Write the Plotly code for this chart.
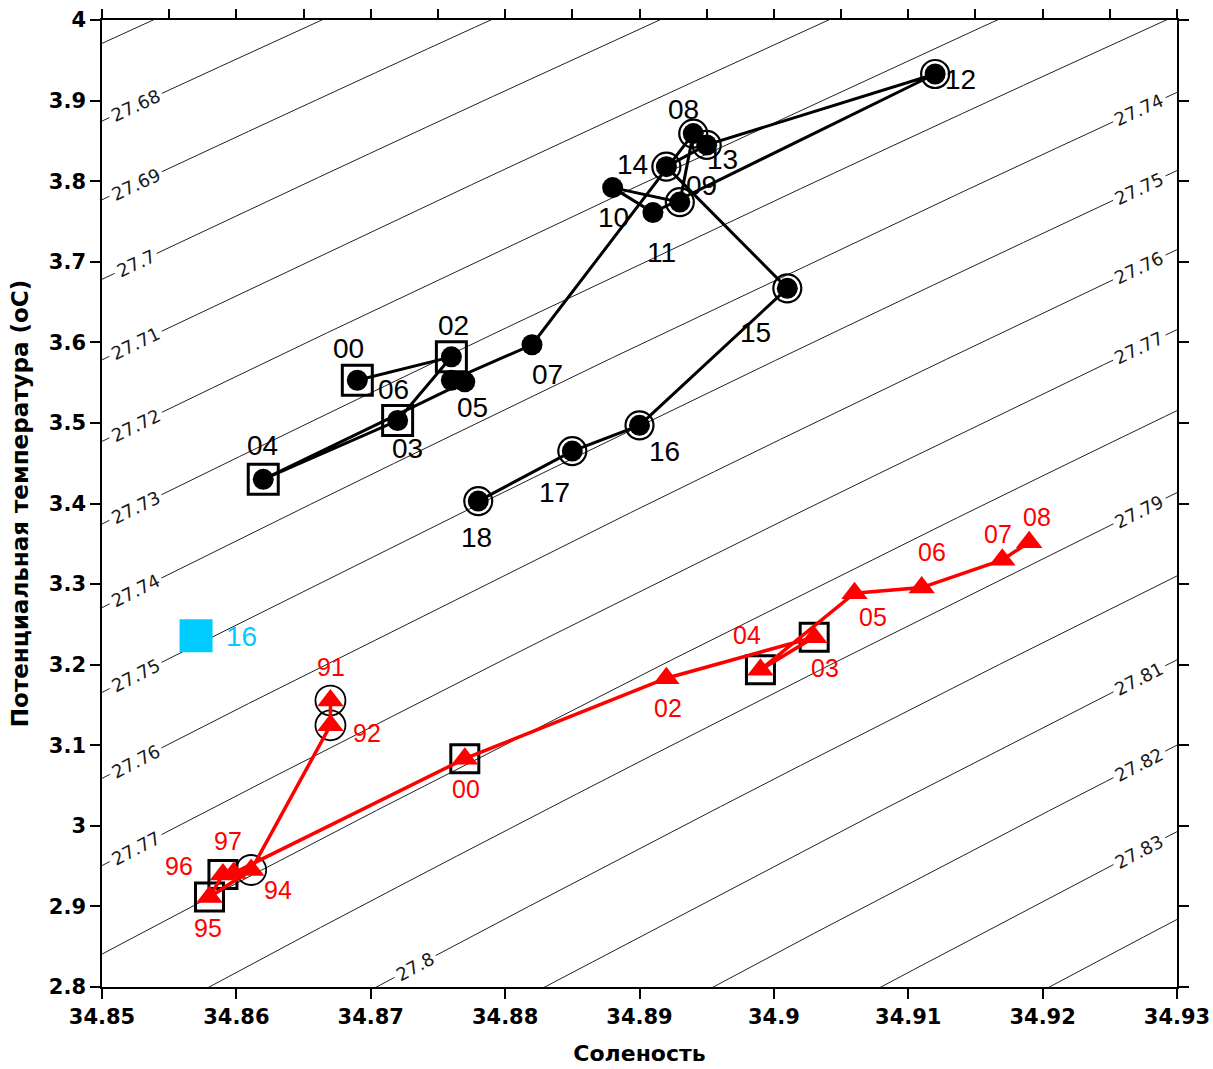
import numpy as np
import plotly.graph_objects as go

# ---------------- data ----------------
BLACK_YEARS = ["00", "02", "03", "04", "05", "06", "07", "08", "09",
               "10", "11", "12", "13", "14", "15", "16", "17", "18"]
BLACK_S = [34.869, 34.876, 34.872, 34.862, 34.877, 34.876, 34.882, 34.894, 34.893,
           34.888, 34.891, 34.912, 34.895, 34.892, 34.901, 34.890, 34.885, 34.878]
BLACK_T = [3.553, 3.582, 3.503, 3.430, 3.551, 3.553, 3.597, 3.859, 3.774,
           3.792, 3.761, 3.933, 3.845, 3.818, 3.667, 3.497, 3.465, 3.403]
BLACK_SQUARED = ["00", "02", "03", "04"]
BLACK_CIRCLED = ["08", "09", "12", "13", "14", "15", "16", "17", "18"]

RED_YEARS = ["91", "92", "94", "95", "96", "97", "00", "02", "03", "04", "05", "06", "07", "08"]
RED_S = [34.867, 34.867, 34.8611, 34.858, 34.859, 34.8598, 34.877, 34.892, 34.903,
         34.899, 34.906, 34.911, 34.917, 34.919]
RED_T = [3.1555, 3.1247, 2.9452, 2.9117, 2.9396, 2.9414, 3.0833, 3.1832, 3.2341,
         3.1936, 3.2887, 3.2957, 3.3301, 3.3520]
RED_SQUARED = ["95", "96", "00", "03", "04"]
RED_CIRCLED = ["91", "92", "94"]

CYAN_YEARS = ["16"]
CYAN_S = [34.857]
CYAN_T = [3.236]

ISOPYCNAL_LEVELS = [27.67, 27.68, 27.69, 27.70, 27.71, 27.72, 27.73, 27.74, 27.75,
                    27.76, 27.77, 27.78, 27.79, 27.80, 27.81, 27.82, 27.83, 27.84]
LEFT_LABEL_LEVELS = [27.68, 27.69, 27.70, 27.71, 27.72, 27.73, 27.74, 27.75, 27.76, 27.77]
RIGHT_LABEL_LEVELS = [27.74, 27.75, 27.76, 27.77, 27.79, 27.81, 27.82, 27.83]
BOTTOM_LABEL_LEVELS = [27.80]

X_RANGE = [34.85, 34.93]
Y_RANGE = [2.8, 4.0]

# ---------------- styles / layout constants ----------------
W, H = 1213, 1069
MARGIN = dict(l=102, r=36, t=20, b=82, pad=0)
KX = (W - MARGIN["l"] - MARGIN["r"]) / (X_RANGE[1] - X_RANGE[0])
KY = (H - MARGIN["t"] - MARGIN["b"]) / (Y_RANGE[1] - Y_RANGE[0])

LABEL_S_POS = {"left": 34.8525, "right": 34.9272, "bottom": 34.8733}
ISO_FONT = 18

# label offsets in pixels (dx, dy-up)
BLACK_LABEL_SHIFT = {"00": (-9, 32), "02": (2, 31), "03": (10, -28), "04": (-1, 34),
                     "05": (8, -26), "06": (-58, -9), "07": (15, -30), "08": (-10, 24),
                     "09": (22, 17), "10": (1, -30), "11": (9, -40), "12": (25, -6),
                     "13": (16, -15), "14": (-34, 2), "15": (-32, -44), "16": (25, -26),
                     "17": (-18, -41), "18": (-2, -36)}
RED_LABEL_SHIFT = {"91": (1, 34), "92": (37, -8), "94": (27, -20), "95": (-2, -31),
                   "96": (-44, 9), "97": (-6, 32), "00": (1, -30), "02": (2, -30),
                   "03": (11, -31), "04": (-13, 35), "05": (18, -24), "06": (10, 36),
                   "07": (-4, 26), "08": (8, 25)}
CYAN_LABEL_SHIFT = {"16": (45, -1)}


def sigma0(S, T):
    """UNESCO EOS-80 density anomaly at surface pressure."""
    rho_w = (999.842594 + 6.793952e-2 * T - 9.095290e-3 * T**2 + 1.001685e-4 * T**3
             - 1.120083e-6 * T**4 + 6.536332e-9 * T**5)
    A = 8.24493e-1 - 4.0899e-3 * T + 7.6438e-5 * T**2 - 8.2467e-7 * T**3 + 5.3875e-9 * T**4
    B = -5.72466e-3 + 1.0227e-4 * T - 1.6546e-6 * T**2
    C = 4.8314e-4
    return rho_w + A * S + B * S**1.5 + C * S**2 - 1000.0


def t_on_isopycnal(S, level):
    S = np.asarray(S, dtype=float)
    lo = np.full(S.shape, -1.0)
    hi = np.full(S.shape, 10.0)
    for _ in range(60):
        mid = 0.5 * (lo + hi)
        f = sigma0(S, mid) - level
        lo = np.where(f > 0, mid, lo)
        hi = np.where(f > 0, hi, mid)
    return 0.5 * (lo + hi)


def label_text(level):
    return f"{level:g}"


def text_halfwidth(txt, size):
    w = 0.0
    for ch in txt:
        w += 0.318 if ch == "." else 0.636
    return 0.5 * w * size + 3


S_grid = np.linspace(34.845, 34.935, 3000)

iso_x, iso_y = [], []
iso_annotations = []
for lvl in ISOPYCNAL_LEVELS:
    T = t_on_isopycnal(S_grid, lvl)
    px = (S_grid - X_RANGE[0]) * KX
    py = (T - Y_RANGE[0]) * KY
    arc = np.concatenate([[0.0], np.cumsum(np.hypot(np.diff(px), np.diff(py)))])
    mask = np.zeros_like(S_grid, dtype=bool)
    places = []
    if any(abs(lvl - v) < 1e-6 for v in LEFT_LABEL_LEVELS):
        places.append("left")
    if any(abs(lvl - v) < 1e-6 for v in RIGHT_LABEL_LEVELS):
        places.append("right")
    if any(abs(lvl - v) < 1e-6 for v in BOTTOM_LABEL_LEVELS):
        places.append("bottom")
    for place in places:
        s_lab = LABEL_S_POS[place]
        t_lab = float(t_on_isopycnal(np.array([s_lab]), lvl)[0])
        t1 = float(t_on_isopycnal(np.array([s_lab - 1e-4]), lvl)[0])
        t2 = float(t_on_isopycnal(np.array([s_lab + 1e-4]), lvl)[0])
        slope_px = ((t2 - t1) / 2e-4) * KY / KX
        angle = -np.degrees(np.arctan(slope_px))
        txt = label_text(lvl)
        a_lab = np.interp(s_lab, S_grid, arc)
        mask |= np.abs(arc - a_lab) < text_halfwidth(txt, ISO_FONT)
        iso_annotations.append(dict(
            x=s_lab, y=t_lab, xref="x", yref="y", text=txt, showarrow=False,
            textangle=angle, xanchor="center", yanchor="middle",
            font=dict(family="DejaVu Sans", size=ISO_FONT, color="#1a1a1a")))
    for s, t, m in zip(S_grid, T, mask):
        iso_x.append(float(s))
        iso_y.append(None if m else float(t))
    iso_x.append(None)
    iso_y.append(None)

fig = go.Figure()

fig.add_trace(go.Scatter(x=iso_x, y=iso_y, mode="lines", xaxis="x", yaxis="y",
                         line=dict(color="#222222", width=1), hoverinfo="skip",
                         showlegend=False, connectgaps=False))


def pick(years, xs, ys, keys):
    sx, sy = [], []
    for yr, a, b in zip(years, xs, ys):
        if yr in keys:
            sx.append(a)
            sy.append(b)
    return sx, sy


# black series decorations
bsx, bsy = pick(BLACK_YEARS, BLACK_S, BLACK_T, BLACK_SQUARED)
fig.add_trace(go.Scatter(x=bsx, y=bsy, mode="markers", xaxis="x2", yaxis="y",
                         marker=dict(symbol="square-open", size=30, color="black",
                                     line=dict(width=3, color="black")),
                         hoverinfo="skip", showlegend=False))
bcx, bcy = pick(BLACK_YEARS, BLACK_S, BLACK_T, BLACK_CIRCLED)
fig.add_trace(go.Scatter(x=bcx, y=bcy, mode="markers", xaxis="x2", yaxis="y",
                         marker=dict(symbol="circle-open", size=28, color="black",
                                     line=dict(width=2.2, color="black")),
                         hoverinfo="skip", showlegend=False))
fig.add_trace(go.Scatter(x=BLACK_S, y=BLACK_T, mode="lines+markers", xaxis="x2", yaxis="y",
                         line=dict(color="black", width=3),
                         marker=dict(symbol="circle", size=21, color="black"),
                         hoverinfo="skip", showlegend=False))

# red series decorations
rsx, rsy = pick(RED_YEARS, RED_S, RED_T, RED_SQUARED)
fig.add_trace(go.Scatter(x=rsx, y=rsy, mode="markers", xaxis="x2", yaxis="y",
                         marker=dict(symbol="square-open", size=28, color="black",
                                     line=dict(width=3, color="black")),
                         hoverinfo="skip", showlegend=False))
rcx, rcy = pick(RED_YEARS, RED_S, RED_T, RED_CIRCLED)
fig.add_trace(go.Scatter(x=rcx, y=rcy, mode="markers", xaxis="x2", yaxis="y",
                         marker=dict(symbol="circle-open", size=30, color="black",
                                     line=dict(width=1.8, color="black")),
                         hoverinfo="skip", showlegend=False))
fig.add_trace(go.Scatter(x=RED_S, y=RED_T, mode="lines+markers", xaxis="x2", yaxis="y",
                         line=dict(color="#ff0000", width=3.5),
                         marker=dict(symbol="triangle-up", size=23, color="#ff0000"),
                         hoverinfo="skip", showlegend=False))

# cyan point
fig.add_trace(go.Scatter(x=CYAN_S, y=CYAN_T, mode="markers", xaxis="x2", yaxis="y",
                         marker=dict(symbol="square", size=33, color="#00ccff"),
                         hoverinfo="skip", showlegend=False))

annotations = list(iso_annotations)


def add_point_labels(years, xs, ys, shifts, color, size):
    for yr, a, b in zip(years, xs, ys):
        dx, dy = shifts[yr]
        annotations.append(dict(x=a, y=b, xref="x", yref="y", text=yr, showarrow=False,
                                xshift=dx, yshift=dy, xanchor="center", yanchor="middle",
                                font=dict(family="Liberation Sans", size=size, color=color)))


add_point_labels(BLACK_YEARS, BLACK_S, BLACK_T, BLACK_LABEL_SHIFT, "black", 28)
add_point_labels(RED_YEARS, RED_S, RED_T, RED_LABEL_SHIFT, "#ff0000", 25)
add_point_labels(CYAN_YEARS, CYAN_S, CYAN_T, CYAN_LABEL_SHIFT, "#00ccff", 28)

tick_font = dict(family="DejaVu Sans", size=21, color="black", weight="bold")
title_font = dict(family="DejaVu Sans", size=22, color="black", weight="bold")
ytitle_font = dict(family="DejaVu Sans", size=23, color="black", weight="bold")

fig.update_layout(
    width=W, height=H, margin=MARGIN,
    paper_bgcolor="white", plot_bgcolor="white",
    showlegend=False,
    annotations=annotations,
    xaxis=dict(range=X_RANGE, tickmode="linear", tick0=34.85, dtick=0.01,
               ticks="outside", ticklen=10, tickwidth=1.5, tickcolor="black",
               showline=True, linecolor="black", linewidth=1.5, mirror=True,
               showgrid=False, zeroline=False, tickfont=tick_font, automargin=False,
               title=dict(text="Соленость", font=title_font, standoff=18)),
    xaxis2=dict(range=X_RANGE, overlaying="x", side="top", anchor="y",
                tickmode="linear", tick0=34.85, dtick=0.005,
                ticks="outside", ticklen=10, tickwidth=1.5, tickcolor="black",
                showticklabels=False, showline=False, showgrid=False, zeroline=False,
                automargin=False),
    yaxis=dict(range=Y_RANGE, tickmode="linear", tick0=2.8, dtick=0.1,
               ticks="outside", ticklen=10, tickwidth=1.5, tickcolor="black",
               showline=True, linecolor="black", linewidth=1.5, mirror="ticks",
               showgrid=False, zeroline=False, tickfont=tick_font, automargin=False,
               title=dict(text="Потенциальная температура (oC)", font=ytitle_font, standoff=14)),
)

fig.write_html("out.html", config={"displayModeBar": False},
               post_script="document.body.style.margin='0';")
